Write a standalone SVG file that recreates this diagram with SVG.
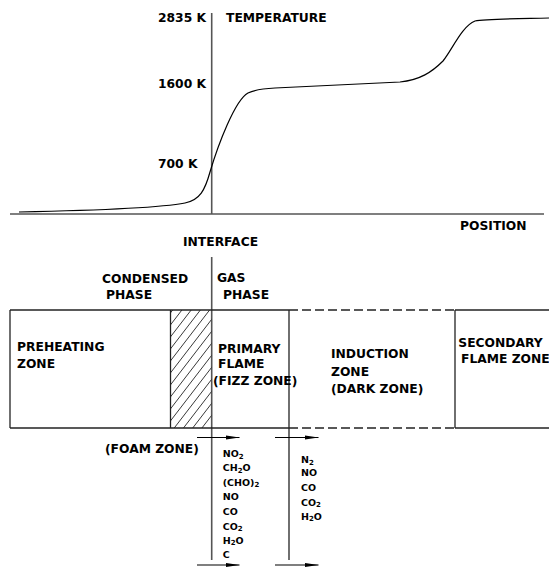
<svg xmlns="http://www.w3.org/2000/svg" width="549" height="569" viewBox="0 0 549 569">
<defs>
<style>
.lbl{font-family:"DejaVu Sans","Liberation Sans",sans-serif;font-weight:bold;font-size:12.3px;fill:#000}
.sp{font-family:"DejaVu Sans","Liberation Sans",sans-serif;font-weight:bold;font-size:9.5px;fill:#000}
.sub{font-size:7px}
.axis{stroke:#555;stroke-width:1.6;fill:none}
.ln{stroke:#222;stroke-width:1.3;fill:none}
.dash{stroke:#222;stroke-width:1.3;fill:none;stroke-dasharray:9 4}
.hatch{stroke:#222;stroke-width:0.9}
.arr{stroke:#000;stroke-width:1.2;fill:none;marker-end:url(#ah)}
</style>
<marker id="ah" markerWidth="15" markerHeight="6" refX="14" refY="3" orient="auto" markerUnits="userSpaceOnUse">
<path d="M0,0.8 L14,3 L0,5.2 Z" fill="#000"/>
</marker>
<clipPath id="hc"><rect x="170" y="310" width="41.5" height="118"/></clipPath>
</defs>

<g id="plot">
<line class="axis" x1="10" y1="214" x2="544" y2="214"/>
<line class="axis" x1="211.7" y1="13" x2="211.7" y2="214"/>
<path d="M19,212 C90,210.5 160,208 185,203 C200,200 205,190 210,172 C218,145 235,100 248,93 C256,89 265,88.5 275,88 L400,82 C420,80 432,72 443,61 C452,50 462,26 475,21 C485,19 500,19 549,18" fill="none" stroke="#000" stroke-width="1.2"/>
<text class="lbl" x="158" y="21.7">2835 K</text>
<text class="lbl" x="158" y="88">1600 K</text>
<text class="lbl" x="158" y="167.7">700 K</text>
<text class="lbl" x="226" y="22">TEMPERATURE</text>
<text class="lbl" x="460" y="230">POSITION</text>
</g>

<g id="interface">
<text class="lbl" x="183" y="246">INTERFACE</text>
<line class="axis" x1="211.7" y1="257" x2="211.7" y2="560"/>
<text class="lbl" x="102" y="282.5">CONDENSED</text>
<text class="lbl" x="106" y="299">PHASE</text>
<text class="lbl" x="217" y="282">GAS</text>
<text class="lbl" x="223" y="299">PHASE</text>
</g>

<g id="preheating-zone">
<line class="ln" x1="10" y1="310" x2="289" y2="310"/>
<line class="ln" x1="10" y1="428" x2="289" y2="428"/>
<line class="ln" x1="10" y1="310" x2="10" y2="428"/>
<text class="lbl" x="17" y="350.7">PREHEATING</text>
<text class="lbl" x="17" y="368.3">ZONE</text>
</g>

<g id="foam-zone">
<line class="ln" x1="170.5" y1="310" x2="170.5" y2="428"/>
<g clip-path="url(#hc)">
<line class="hatch" x1="165" y1="320" x2="215" y2="255"/>
<line class="hatch" x1="165" y1="332" x2="215" y2="267"/>
<line class="hatch" x1="165" y1="344" x2="215" y2="279"/>
<line class="hatch" x1="165" y1="356" x2="215" y2="291"/>
<line class="hatch" x1="165" y1="368" x2="215" y2="303"/>
<line class="hatch" x1="165" y1="380" x2="215" y2="315"/>
<line class="hatch" x1="165" y1="392" x2="215" y2="327"/>
<line class="hatch" x1="165" y1="404" x2="215" y2="339"/>
<line class="hatch" x1="165" y1="416" x2="215" y2="351"/>
<line class="hatch" x1="165" y1="428" x2="215" y2="363"/>
<line class="hatch" x1="165" y1="440" x2="215" y2="375"/>
<line class="hatch" x1="165" y1="452" x2="215" y2="387"/>
<line class="hatch" x1="165" y1="464" x2="215" y2="399"/>
<line class="hatch" x1="165" y1="476" x2="215" y2="411"/>
<line class="hatch" x1="165" y1="488" x2="215" y2="423"/>
</g>
<text class="lbl" x="105" y="453">(FOAM ZONE)</text>
</g>

<g id="primary-flame">
<line class="ln" x1="289" y1="310" x2="289" y2="560"/>
<text class="lbl" x="218" y="353.3">PRIMARY</text>
<text class="lbl" x="218" y="368.3">FLAME</text>
<text class="lbl" x="213" y="384.5">(FIZZ ZONE)</text>
<text class="sp" x="222.7" y="456.5">NO<tspan class="sub" dy="2">2</tspan></text>
<text class="sp" x="222.7" y="470.7">CH<tspan class="sub" dy="2">2</tspan><tspan dy="-2">O</tspan></text>
<text class="sp" x="222.7" y="485.7">(CHO)<tspan class="sub" dy="1">2</tspan></text>
<text class="sp" x="222.7" y="500">NO</text>
<text class="sp" x="222.7" y="515">CO</text>
<text class="sp" x="222.7" y="530">CO<tspan class="sub" dy="1">2</tspan></text>
<text class="sp" x="222.7" y="544">H<tspan class="sub" dy="1">2</tspan><tspan dy="-1">O</tspan></text>
<text class="sp" x="222.7" y="558.3">C</text>
</g>

<g id="induction-zone">
<line class="dash" x1="289" y1="310" x2="455" y2="310"/>
<line class="dash" x1="289" y1="428" x2="455" y2="428"/>
<text class="lbl" x="331" y="358.3">INDUCTION</text>
<text class="lbl" x="331" y="375.7">ZONE</text>
<text class="lbl" x="331" y="392.7">(DARK ZONE)</text>
<text class="sp" x="301" y="462.7">N<tspan class="sub" dy="2">2</tspan></text>
<text class="sp" x="301" y="476">NO</text>
<text class="sp" x="301" y="491">CO</text>
<text class="sp" x="301" y="505.7">CO<tspan class="sub" dy="1">2</tspan></text>
<text class="sp" x="301" y="520">H<tspan class="sub" dy="1">2</tspan><tspan dy="-1">O</tspan></text>
</g>

<g id="secondary-flame-zone">
<line class="ln" x1="455" y1="310" x2="549" y2="310"/>
<line class="ln" x1="455" y1="428" x2="549" y2="428"/>
<line class="ln" x1="455" y1="310" x2="455" y2="428"/>
<text class="lbl" x="458.3" y="346.7">SECONDARY</text>
<text class="lbl" x="461" y="362.7">FLAME ZONE</text>
</g>

<g id="connectors">
<line class="arr" x1="197" y1="437.5" x2="239.5" y2="437.5"/>
<line class="arr" x1="275" y1="437.5" x2="318.5" y2="437.5"/>
<line class="arr" x1="197" y1="565" x2="239.5" y2="565"/>
<line class="arr" x1="275" y1="565" x2="318.5" y2="565"/>
</g>
</svg>
